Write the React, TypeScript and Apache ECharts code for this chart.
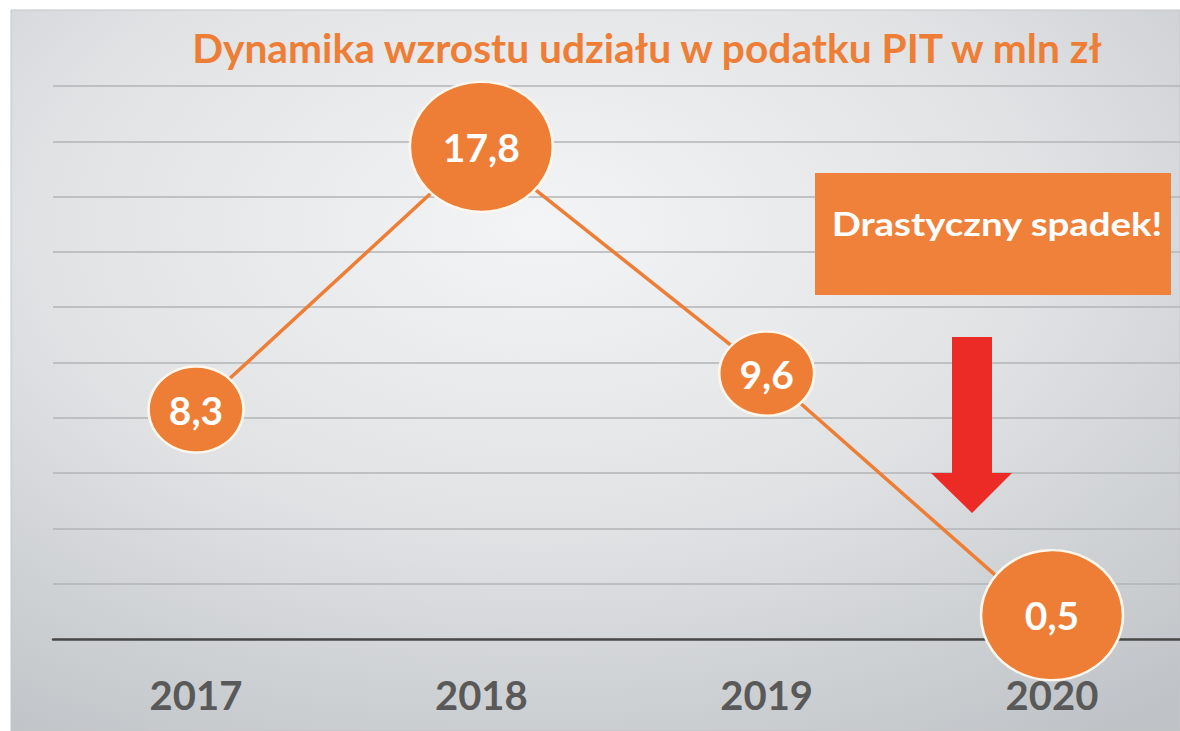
import React, { useEffect, useRef } from "react";
import * as echarts from "echarts";

const titleText = "Dynamika wzrostu udziału w podatku PIT w mln zł";
const years = ["2017", "2018", "2019", "2020"];
const values = [8.3, 17.8, 9.6, 0.5];
const annotationText = "Drastyczny spadek!";

const symbolSizes = [
  [95, 86],
  [143, 130],
  [95, 84],
  [142, 130],
];
const symbolOffsets = [
  [0, 0],
  [0, 0],
  [0, 0],
  [0, -10],
];

const ORANGE = "#EE7E35";
const FONT = "Lato, 'Open Sans', sans-serif";

export default function App() {
  const ref = useRef<HTMLDivElement>(null);

  useEffect(() => {
    if (!ref.current) return;
    const chart = echarts.init(ref.current, null, { renderer: "svg" });
    chart.setOption({
      animation: false,
      textStyle: { fontFamily: FONT },
      title: {
        text: titleText,
        left: 642,
        textAlign: "center",
        top: 22,
        textStyle: {
          color: ORANGE,
          fontSize: 40.7,
          fontWeight: "bold",
          fontFamily: FONT,
        },
      },
      grid: [
        { left: 53, top: 86, right: 0, height: 553 },
        { left: 196, top: 86, width: 856, height: 553 },
      ],
      xAxis: [
        {
          type: "value",
          gridIndex: 0,
          min: 0,
          max: 1,
          splitLine: { show: false },
          axisLabel: { show: false },
          axisTick: { show: false },
          axisLine: { show: true, onZero: false, lineStyle: { color: "#484848", width: 2.5 } },
        },
        {
          type: "category",
          gridIndex: 1,
          data: years,
          boundaryGap: false,
          axisLine: { show: false },
          axisTick: { show: false },
          splitLine: { show: false },
          axisLabel: {
            margin: 36,
            color: "#595959",
            fontSize: 40,
            fontWeight: "bold",
            fontFamily: FONT,
          },
        },
      ],
      yAxis: [
        {
          type: "value",
          gridIndex: 0,
          min: 0,
          max: 20,
          interval: 2,
          axisLabel: { show: false },
          axisLine: { show: false },
          axisTick: { show: false },
          splitLine: { lineStyle: { color: "#b2b4b6", width: 1.5 } },
        },
        {
          type: "value",
          gridIndex: 1,
          min: 0,
          max: 20,
          interval: 2,
          axisLabel: { show: false },
          axisLine: { show: false },
          axisTick: { show: false },
          splitLine: { show: false },
        },
      ],
      graphic: [
        {
          type: "rect",
          z: -100,
          silent: true,
          shape: { x: 11, y: 10, width: 1169, height: 721 },
          style: {
            fill: {
              type: "radial",
              x: 0.45,
              y: 0.3,
              r: 0.85,
              colorStops: [
                { offset: 0, color: "#f3f4f5" },
                { offset: 0.5, color: "#e0e2e4" },
                { offset: 1, color: "#bfc3c7" },
              ],
            },
            stroke: "#c4c6c8",
            lineWidth: 1,
          },
        },
        {
          type: "rect",
          z: 100,
          shape: { x: 815, y: 173, width: 356, height: 122 },
          style: { fill: "#F0813B" },
        },
        {
          type: "text",
          z: 101,
          x: 997,
          y: 224,
          scaleX: 1.2,
          style: {
            text: annotationText,
            fill: "#ffffff",
            fontSize: 32,
            fontWeight: "bold",
            fontFamily: FONT,
            textAlign: "center",
            textVerticalAlign: "middle",
          },
        },
        {
          type: "polygon",
          z: 100,
          shape: {
            points: [
              [952, 337],
              [992, 337],
              [992, 473],
              [1012, 473],
              [972, 513],
              [931, 473],
              [952, 473],
            ],
          },
          style: { fill: "#EC2A26" },
        },
      ],
      series: [
        {
          type: "line",
          xAxisIndex: 1,
          yAxisIndex: 1,
          clip: false,
          data: values.map((v, i) => ({
            value: v,
            symbolSize: symbolSizes[i],
            symbolOffset: symbolOffsets[i],
          })),
          symbol: "circle",
          lineStyle: { color: ORANGE, width: 3.5 },
          itemStyle: { color: ORANGE, borderColor: "#fff6ec", borderWidth: 2.5 },
          label: {
            show: true,
            position: "inside",
            formatter: (p: any) => String(p.value).replace(".", ","),
            color: "#ffffff",
            fontSize: 39,
            fontWeight: "bold",
            fontFamily: FONT,
          },
          z: 5,
        },
      ],
    });
    return () => chart.dispose();
  }, []);

  return (
    <div
      ref={ref}
      style={{ position: "absolute", left: 0, top: 0, width: 1180, height: 731 }}
    />
  );
}
